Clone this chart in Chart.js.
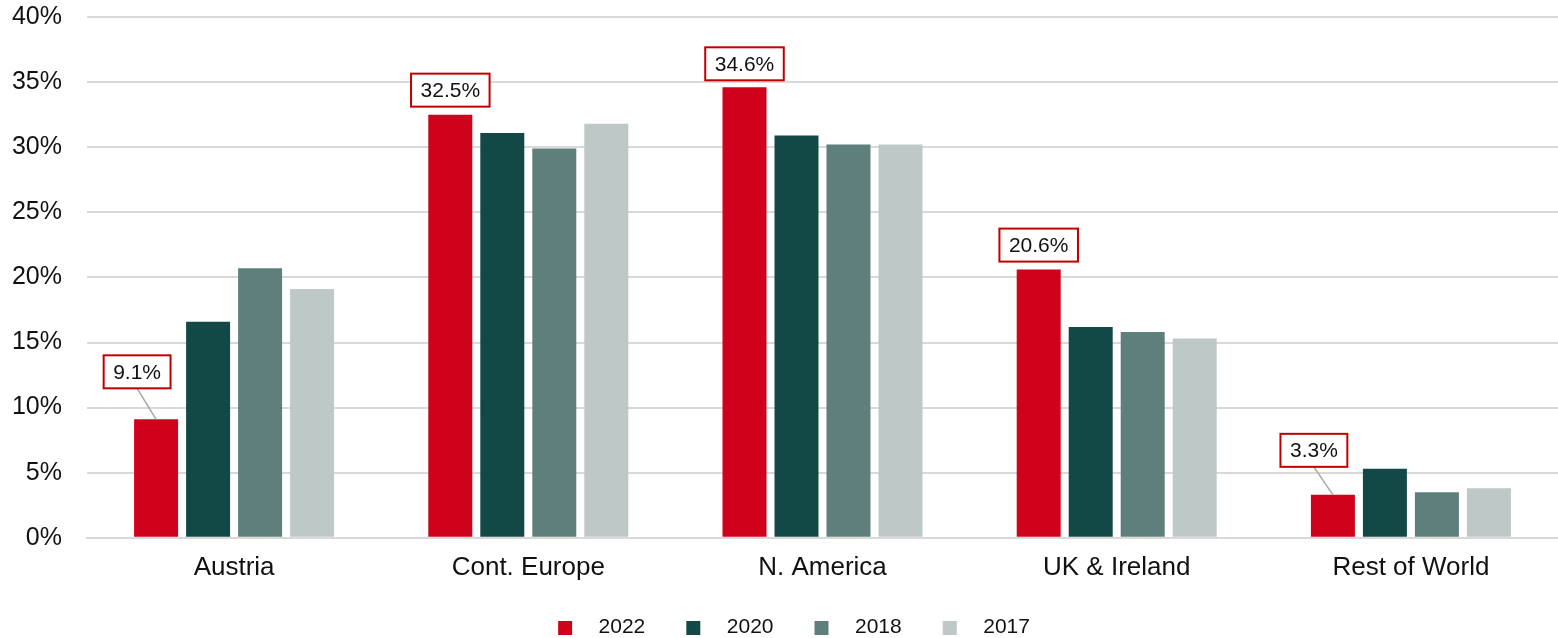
<!DOCTYPE html>
<html>
<head>
<meta charset="utf-8">
<script src="https://cdn.jsdelivr.net/npm/chart.js@4.4.1/dist/chart.umd.min.js"></script>
<style>
  html, body { margin: 0; padding: 0; background: #fff; }
  #wrap { width: 1558px; height: 638px; position: relative; }
</style>
</head>
<body>
<div id="wrap"><canvas id="grafico"></canvas></div>
<script>
const categorias = ['Austria', 'Cont. Europe', 'N. America', 'UK & Ireland', 'Rest of World'];
const anos = ['2022', '2020', '2018', '2017'];
const valores2022 = [9.1, 32.5, 34.6, 20.6, 3.3];
const valores2020 = [16.6, 31.1, 30.9, 16.2, 5.3];
const valores2018 = [20.7, 29.9, 30.2, 15.8, 3.5];
const valores2017 = [19.1, 31.8, 30.2, 15.3, 3.8];
const ticksY = [0, 5, 10, 15, 20, 25, 30, 35, 40];

const cores = ['#d0021b', '#124846', '#5f7f7d', '#bdc8c7'];
const fonte = "'Liberation Sans', Arial, sans-serif";
Chart.defaults.font.family = fonte;

// quadradinho da legenda com espaço transparente dos lados
function marcador(cor) {
  const c = document.createElement('canvas');
  c.width = 48; c.height = 14;
  const g = c.getContext('2d');
  g.fillStyle = cor;
  g.fillRect(18, 0, 14, 14);
  return c;
}

// caixas com o valor de 2022 (deslocamento da caixa em relação ao topo da barra)
const deslocX = [-19, 0, 0, 0, -19];
const folga = [31, 8, 7, 8, 28];

const rotulos2022 = {
  id: 'rotulos2022',
  afterDatasetsDraw(chart) {
    const ctx = chart.ctx;
    const meta = chart.getDatasetMeta(0);
    ctx.save();
    ctx.font = '21px ' + fonte;
    meta.data.forEach((bar, i) => {
      const txt = valores2022[i].toFixed(1) + '%';
      const w = ctx.measureText(txt).width + 19;
      const h = 33;
      const cx = bar.x + deslocX[i];
      const bottom = bar.y - folga[i];
      const top = bottom - h;
      if (folga[i] > 15) {
        ctx.strokeStyle = '#a6a6a6';
        ctx.lineWidth = 1.5;
        ctx.beginPath();
        ctx.moveTo(cx, bottom);
        ctx.lineTo(bar.x, bar.y);
        ctx.stroke();
      }
      ctx.fillStyle = '#fff';
      ctx.fillRect(cx - w / 2, top, w, h);
      ctx.strokeStyle = '#c00000';
      ctx.lineWidth = 2;
      ctx.strokeRect(cx - w / 2, top, w, h);
      ctx.fillStyle = '#111';
      ctx.textAlign = 'center';
      ctx.textBaseline = 'middle';
      ctx.fillText(txt, cx, top + h / 2 + 1);
    });
    ctx.restore();
  }
};

const ctx = document.getElementById('grafico').getContext('2d');
const meuGrafico = new Chart(ctx, {
  type: 'bar',
  data: {
    labels: categorias,
    datasets: [
      { label: anos[0], data: valores2022, backgroundColor: cores[0] },
      { label: anos[1], data: valores2020, backgroundColor: cores[1] },
      { label: anos[2], data: valores2018, backgroundColor: cores[2] },
      { label: anos[3], data: valores2017, backgroundColor: cores[3] }
    ]
  },
  options: {
    responsive: true,
    maintainAspectRatio: false,
    animation: false,
    categoryPercentage: 0.707,
    barPercentage: 0.846,
    layout: { padding: { left: 12, right: 0, top: 17, bottom: -10 } },
    plugins: {
      legend: {
        display: true,
        position: 'bottom',
        labels: {
          usePointStyle: true,
          pointStyleWidth: 48,
          boxHeight: 14,
          padding: 23,
          color: '#111',
          font: { family: fonte, size: 21 },
          generateLabels(chart) {
            const itens = Chart.defaults.plugins.legend.labels.generateLabels(chart);
            itens.forEach((it, i) => { it.pointStyle = marcador(cores[i]); });
            return itens;
          }
        }
      },
      tooltip: { enabled: false }
    },
    scales: {
      x: {
        grid: { display: false, drawTicks: false },
        border: { color: '#d9d9d9', width: 2 },
        afterFit(axis) { axis.height -= 3; },
        ticks: { color: '#111', padding: 14, font: { family: fonte, size: 26 } }
      },
      y: {
        min: 0,
        max: 40,
        afterBuildTicks(axis) { axis.ticks = ticksY.map(v => ({ value: v })); },
        afterFit(axis) { axis.width = 75; axis.paddingTop = 0; axis.paddingBottom = 0; },
        grid: { color: '#d9d9d9', lineWidth: 2, drawTicks: false },
        border: { display: false },
        ticks: {
          color: '#111',
          padding: 25,
          font: { family: fonte, size: 25 },
          callback: v => v + '%'
        }
      }
    }
  },
  plugins: [rotulos2022]
});
</script>
</body>
</html>
